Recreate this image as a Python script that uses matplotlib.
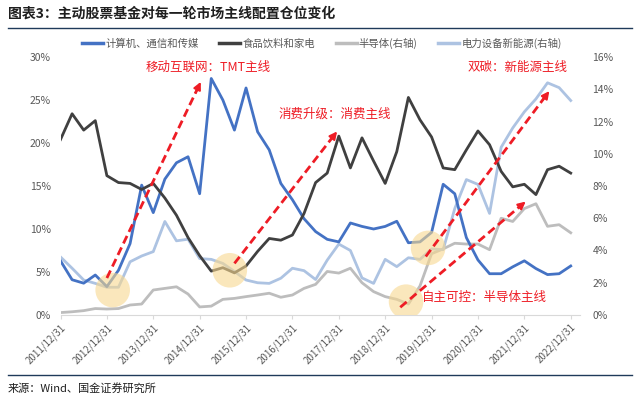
import matplotlib
matplotlib.use('Agg')
import matplotlib.pyplot as plt
from matplotlib.lines import Line2D
import numpy as np

plt.rcParams['font.family'] = ['Noto Sans CJK SC', 'DejaVu Sans']
plt.rcParams['axes.unicode_minus'] = False

# quarterly data, 2011Q4 .. 2022Q4
tmt = [6.3, 4.1, 3.7, 4.65, 3.3, 5.2, 8.3, 15.1, 11.9, 15.8, 17.7, 18.4,
       14.1, 27.5, 25.0, 21.5, 26.4, 21.3, 19.2, 15.3, 13.4, 11.2, 9.7, 8.8,
       8.5, 10.7, 10.3, 10.0, 10.3, 10.9, 8.4, 8.5, 9.6, 15.2, 14.1, 9.0,
       6.4, 4.8, 4.8, 5.6, 6.3, 5.4, 4.7, 4.8, 5.7]
food = [20.4, 23.4, 21.5, 22.6, 16.2, 15.4, 15.3, 14.6, 15.3, 13.6, 11.6, 9.0,
        6.9, 5.1, 5.5, 4.9, 5.7, 7.4, 8.9, 8.7, 9.3, 11.8, 15.4, 16.5,
        20.8, 17.1, 20.6, 17.9, 15.3, 19.0, 25.3, 22.7, 20.7, 17.1, 16.9, 19.2,
        21.4, 19.8, 16.7, 14.9, 15.2, 14.0, 16.9, 17.3, 16.5]
semi = [0.15, 0.2, 0.27, 0.4, 0.37, 0.4, 0.62, 0.68, 1.55, 1.65, 1.75, 1.3,
        0.5, 0.55, 0.97, 1.03, 1.14, 1.24, 1.35, 1.1, 1.24, 1.65, 1.9, 2.7,
        2.6, 2.9, 2.0, 1.45, 1.14, 0.97, 0.68, 1.8, 3.8, 4.1, 4.45, 4.4,
        4.4, 4.05, 6.0, 5.8, 6.6, 6.9, 5.5, 5.6, 5.1]
power = [3.6, 2.9, 2.17, 1.96, 1.72, 1.72, 3.3, 3.66, 3.93, 5.8, 4.6, 4.7,
         3.5, 3.45, 3.2, 2.7, 2.17, 2.0, 1.96, 2.28, 2.9, 2.75, 2.2, 3.4,
         4.4, 4.0, 2.3, 1.96, 3.45, 3.0, 3.55, 3.45, 4.1, 4.05, 6.6, 8.4,
         8.1, 6.3, 10.4, 11.6, 12.6, 13.4, 14.4, 14.1, 13.3]
year_labels = ['2011/12/31', '2012/12/31', '2013/12/31', '2014/12/31', '2015/12/31',
               '2016/12/31', '2017/12/31', '2018/12/31', '2019/12/31', '2020/12/31',
               '2021/12/31', '2022/12/31']

# annotation data (left-axis units)
circle_x = [4.5, 14.6, 31.7, 29.8]
circle_y = [2.9, 5.2, 7.8, 1.55]
arrows = [((4.0, 4.3), (12.2, 27.4)),
          ((15.0, 6.0), (24.0, 21.6)),
          ((29.3, 0.9), (40.3, 13.4)),
          ((31.5, 6.8), (42.3, 26.3))]
notes = [(7.3, 28.8, '移动互联网：TMT主线'),
         (18.8, 23.4, '消费升级：消费主线'),
         (35.1, 28.8, '双碳：新能源主线'),
         (31.2, 2.0, '自主可控：半导体主线')]

x = np.arange(len(tmt))
c_tmt, c_food, c_semi, c_power = '#4472C4', '#404040', '#BDBDBD', '#ADC3E2'
red = '#EE1C25'
grey_txt = '#595959'

fig = plt.figure(figsize=(6.4, 4.01), dpi=100)
ax = fig.add_axes([60.5 / 640, 1 - 315 / 401, (580 - 60.5) / 640, (315 - 57) / 401])
ax2 = ax.twinx()
ax.set_zorder(ax2.get_zorder() + 1)
ax.patch.set_visible(False)

lw = 2.0
ax2.plot(x, semi, color=c_semi, lw=lw, label='半导体(右轴)')
ax2.plot(x, power, color=c_power, lw=lw, label='电力设备新能源(右轴)')
ax.plot(x, tmt, color=c_tmt, lw=lw, label='计算机、通信和传媒', zorder=3)
ax.plot(x, food, color=c_food, lw=lw, label='食品饮料和家电', zorder=3)

ax.scatter(circle_x, circle_y, s=620, color='#F8D890', alpha=0.6, edgecolors='none', zorder=4)

for (x0, y0), (x1, y1) in arrows:
    ax.plot([x0, x1 - (x1 - x0) * 0.04], [y0, y1 - (y1 - y0) * 0.04], color=red, lw=2.0,
            linestyle=(0, (3, 1.6)), zorder=5)
    ax.annotate('', xy=(x1, y1), xytext=(x1 - (x1 - x0) * 0.08, y1 - (y1 - y0) * 0.08),
                arrowprops=dict(arrowstyle='-|>', color=red, lw=1.5, mutation_scale=11),
                zorder=5)

for nx, ny, t in notes:
    ax.text(nx, ny, t, color=red, fontsize=9, ha='left', va='center', zorder=6)

ax.set_xlim(0, 44.8)
ax.set_ylim(0, 30)
ax2.set_ylim(0, 16)
ax.set_yticks(np.arange(0, 31, 5))
ax.set_yticklabels([f'{v}%' for v in range(0, 31, 5)])
ax2.set_yticks(np.arange(0, 17, 2))
ax2.set_yticklabels([f'{v}%' for v in range(0, 17, 2)])
ax.set_xticks(np.arange(0, 45, 4))
ax.set_xticklabels(year_labels, rotation=45, ha='right', rotation_mode='anchor')

for a in (ax, ax2):
    for s in ('top', 'left', 'right'):
        a.spines[s].set_visible(False)
    a.spines['bottom'].set_color('#D9D9D9')
ax2.spines['bottom'].set_visible(False)
ax.tick_params(axis='x', length=3, color='#D9D9D9', labelsize=7, labelcolor=grey_txt, pad=2)
ax.tick_params(axis='y', length=0, labelsize=7.5, labelcolor=grey_txt, pad=7)
ax2.tick_params(axis='y', length=0, labelsize=7.5, labelcolor=grey_txt, pad=9)

handles = [Line2D([], [], color=c, lw=2.5) for c in (c_tmt, c_food, c_semi, c_power)]
names = ['计算机、通信和传媒', '食品饮料和家电', '半导体(右轴)', '电力设备新能源(右轴)']
fig.legend(handles, names, loc='center', bbox_to_anchor=(322 / 640, 1 - 43 / 401), ncol=4,
           frameon=False, fontsize=7.5, labelcolor=grey_txt, handlelength=2.0,
           handletextpad=0.2, columnspacing=2.0)

fig.text(8 / 640, 1 - 14 / 401, '图表3：主动股票基金对每一轮市场主线配置仓位变化',
         fontsize=10, fontweight='bold', color='#1F1F1F', ha='left', va='center')
fig.add_artist(Line2D([8 / 640, 632 / 640], [1 - 28 / 401] * 2, color='#1F3A5A', lw=1.0))
fig.add_artist(Line2D([8 / 640, 632 / 640], [1 - 375 / 401] * 2, color='#1F3A5A', lw=1.0))
fig.text(8 / 640, 1 - 388 / 401, '来源：Wind、国金证券研究所', fontsize=8, color='#1F1F1F',
         ha='left', va='center')

fig.savefig('out.png', dpi=100)
